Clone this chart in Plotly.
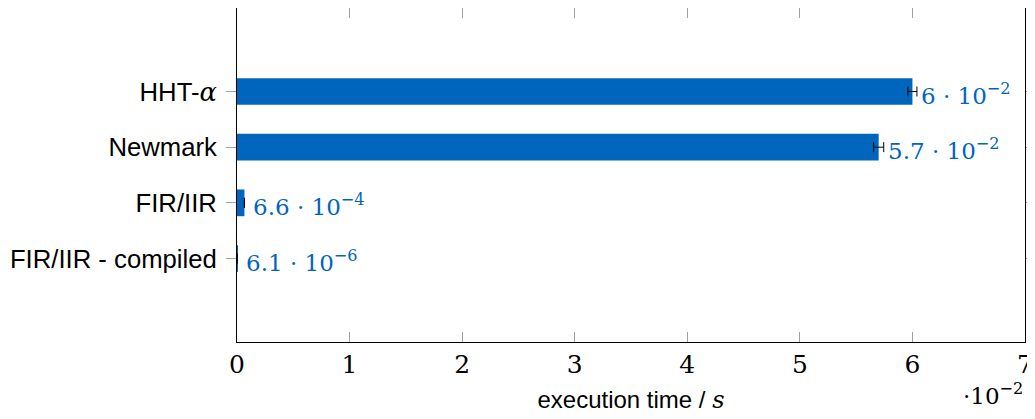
import plotly.graph_objects as go

# Data (seconds)
SERIF = "DejaVu Serif"
SANS = "Liberation Sans"

methods = ["FIR/IIR - compiled", "FIR/IIR", "Newmark",
           "HHT-<span style=\"font-family:'DejaVu Serif'\"><i>α</i></span>"]
times = [6.1e-6, 6.6e-4, 5.7e-2, 6.0e-2]
errors = [None, 1e-5, 4.5e-4, 4e-4]
value_labels = ["6.1 · 10<sup>−6</sup>", "6.6 · 10<sup>−4</sup>",
                "5.7 · 10<sup>−2</sup>", "6 · 10<sup>−2</sup>"]
x_ticks = [0, 0.01, 0.02, 0.03, 0.04, 0.05, 0.06, 0.07]
x_ticktext = ["0", "1", "2", "3", "4", "5", "6", "7"]

BLUE = "#0065BD"

fig = go.Figure()
fig.add_trace(go.Bar(
    x=times, y=methods, orientation="h",
    marker=dict(color=BLUE, line=dict(width=0)),
    width=0.48,
    error_x=dict(type="data", array=errors, color="black", thickness=1, width=5),
    showlegend=False,
))

for m, t, lab in zip(methods, times, value_labels):
    fig.add_annotation(x=t, y=m, xref="x", yref="y", text=lab, showarrow=False,
                       xanchor="left", yanchor="middle", xshift=7, yshift=-2,
                       font=dict(family=SERIF, size=23, color=BLUE))

fig.add_annotation(xref="paper", yref="paper", x=1.0, y=-0.105, xanchor="right",
                   yanchor="top", showarrow=False, text="·10<sup>−2</sup>",
                   font=dict(family=SERIF, size=23, color="black"))

# page body has an 8px default margin, so the figure is sized to fit the window
fig.update_layout(
    width=1027, height=411,
    margin=dict(l=229, r=10, t=0, b=77),
    plot_bgcolor="white", paper_bgcolor="white",
    bargap=0.5,
    xaxis=dict(
        range=[0, 0.07], tickvals=x_ticks, ticktext=x_ticktext,
        automargin=False,
        showgrid=False, zeroline=False,
        showline=True, linecolor="black", linewidth=1, mirror="ticks",
        ticks="inside", ticklen=10, tickcolor="#a0a0a0", tickwidth=1,
        tickfont=dict(family=SERIF, size=25, color="black"),
        title=dict(text="execution time / <span style=\"font-family:'DejaVu Serif'\"><i>s</i></span>",
                   standoff=13,
                   font=dict(family=SANS, size=24, color="black")),
    ),
    yaxis=dict(
        categoryorder="array", categoryarray=methods,
        range=[-1.5, 4.5], automargin=False,
        showgrid=False, zeroline=False,
        showline=True, linecolor="black", linewidth=1, mirror="ticks",
        ticks="outside", ticklen=10, tickcolor="#a0a0a0", tickwidth=1,
        ticklabelstandoff=4,
        tickfont=dict(family=SANS, size=25.7, color="black"),
    ),
)

fig.write_html("out.html")
